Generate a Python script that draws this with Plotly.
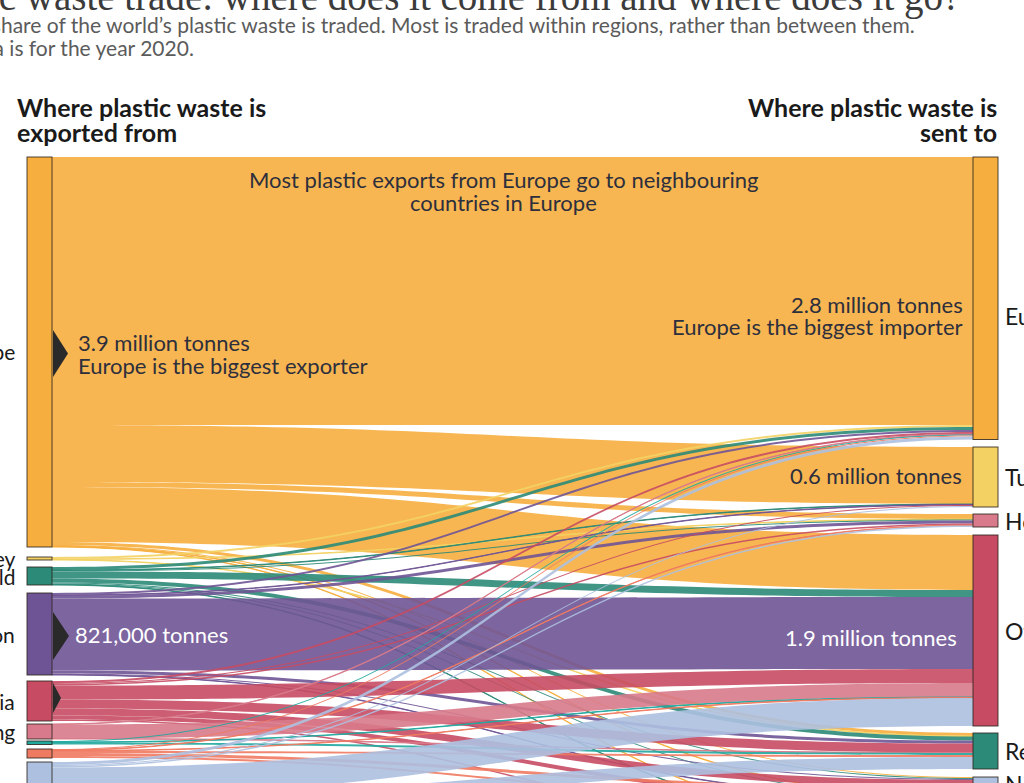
import plotly.graph_objects as go

W, H = 1024, 783

# ---------------- data (million tonnes, 2020) ----------------
exporter_names = ["Europe", "Turkey", "Rest of the world", "East Asia region", "Other Asia",
                  "Hong Kong", "Africa", "Latin America", "North America"]
importer_names = ["Europe", "Turkey", "Hong Kong", "Other Asia", "Rest of the world",
                  "North America", "Latin America", "Africa"]

flow_from = (["Europe"] * 8 + ["Turkey"] * 3 + ["Rest of the world"] * 8 +
             ["East Asia region"] * 7 + ["Other Asia"] * 8 + ["Hong Kong"] * 3 +
             ["Africa"] * 3 + ["Latin America"] * 6 + ["North America"] * 7)
flow_to = [
    "Europe", "Turkey", "Hong Kong", "Other Asia", "Rest of the world", "North America", "Latin America", "Africa",
    "Europe", "Hong Kong", "Rest of the world",
    "Europe", "Turkey", "Hong Kong", "Other Asia", "Rest of the world", "North America", "Latin America", "Africa",
    "Europe", "Turkey", "Hong Kong", "Other Asia", "Rest of the world", "North America", "Latin America",
    "Europe", "Turkey", "Hong Kong", "Other Asia", "Rest of the world", "North America", "Latin America", "Africa",
    "Europe", "Other Asia", "Rest of the world",
    "Europe", "Other Asia", "Rest of the world",
    "Europe", "Hong Kong", "Other Asia", "Rest of the world", "North America", "Latin America",
    "Europe", "Turkey", "Hong Kong", "Other Asia", "Rest of the world", "Latin America", "Africa",
]
flow_mt = [
    2.68, 0.57, 0.05, 0.55, 0.03, 0.01, 0.005, 0.005,
    0.02, 0.005, 0.005,
    0.03, 0.005, 0.01, 0.07, 0.04, 0.01, 0.01, 0.005,
    0.02, 0.005, 0.03, 0.72, 0.03, 0.01, 0.005,
    0.02, 0.01, 0.015, 0.14, 0.09, 0.07, 0.04, 0.015,
    0.005, 0.14, 0.005,
    0.01, 0.005, 0.02,
    0.01, 0.005, 0.005, 0.02, 0.03, 0.02,
    0.03, 0.01, 0.015, 0.28, 0.12, 0.18, 0.005,
]

region_colors = {
    "Europe": (246, 174, 62),
    "Turkey": (243, 209, 99),
    "Rest of the world": (43, 138, 120),
    "East Asia region": (111, 84, 149),
    "Other Asia": (198, 75, 99),
    "Hong Kong": (216, 122, 139),
    "Africa": (33, 168, 158),
    "Latin America": (239, 122, 98),
    "North America": (173, 192, 224),
}

# ---------------- layout (pixels) ----------------
KY = 100.0                      # px per million tonnes
left_tops = [157, 557, 567, 593, 681, 724, 741, 749, 762]
right_tops = [157, 447, 514, 535, 733, 777, 797, 830]
LEFT_CX, RIGHT_CX, THICK = 39.5, 985.5, 25
left_labelled = ["Europe", "Turkey", "Rest of the world", "East Asia region", "Other Asia",
                 "Hong Kong", "North America"]
right_label_shift = {"Europe": 18}

n_left = len(exporter_names)
labels = exporter_names + importer_names
src_idx = [exporter_names.index(s) for s in flow_from]
tgt_idx = [n_left + importer_names.index(t) for t in flow_to]

out_tot = [sum(v for s, v in zip(flow_from, flow_mt) if s == n) for n in exporter_names]
in_tot = [sum(v for t, v in zip(flow_to, flow_mt) if t == n) for n in importer_names]
total = sum(flow_mt)
dom_h = KY * total
dom_top = H - dom_h

centers = [t + v * KY / 2 for t, v in zip(left_tops, out_tot)] + \
          [t + v * KY / 2 for t, v in zip(right_tops, in_tot)]
node_y = [(c - dom_top) / dom_h for c in centers]
node_x = [LEFT_CX / W] * n_left + [RIGHT_CX / W] * len(importer_names)

def rgb(c, a=1.0):
    return f"rgba({c[0]},{c[1]},{c[2]},{a})"

node_colors = [rgb(region_colors[n]) for n in labels]
link_colors = [rgb(region_colors[s], 0.9) for s in flow_from]

fig = go.Figure(go.Sankey(
    arrangement="fixed",
    domain=dict(x=[0, 1], y=[0, dom_h / H]),
    node=dict(label=[""] * len(labels), x=node_x, y=node_y, pad=0, thickness=THICK,
              color=node_colors, line=dict(color="rgba(45,38,30,0.85)", width=1)),
    link=dict(source=src_idx, target=tgt_idx, value=flow_mt, color=link_colors),
    hoverinfo="none",
))

def px(x):
    return x / W

def py(y):
    return 1 - y / H

anns = []

def add(text, x, y, size, color="#222222", xanchor="left", weight=400, family="Lato"):
    anns.append(dict(text=text, x=px(x), y=py(y), xref="paper", yref="paper",
                     xanchor=xanchor, yanchor="middle", showarrow=False,
                     font=dict(size=size, color=color, family=family, weight=weight)))

# title & subtitle (partly outside the visible page)
add("Plastic waste trade: where does it come from and where does it go?", 962, -3, 39,
    "#3b3b3b", "right", family="Liberation Serif")
add("Only a small share of the world’s plastic waste is traded. Most is traded within regions, rather than between them.",
    917, 25, 21, "#5b5b5b", "right")
add("Data is for the year 2020.", 196, 48, 21, "#5b5b5b", "right")

# column headings
add("Where plastic waste is", 15, 107, 25, "#1a1a1a", "left", 700)
add("exported from", 15, 132, 25, "#1a1a1a", "left", 700)
add("Where plastic waste is", 999, 107, 25, "#1a1a1a", "right", 700)
add("sent to", 999, 132, 25, "#1a1a1a", "right", 700)

# node labels
for i, name in enumerate(exporter_names):
    if name in left_labelled:
        add(name, 17, centers[i], 21, "#1a1a1a", "right")
for j, name in enumerate(importer_names):
    add(name, 1003, centers[n_left + j] + right_label_shift.get(name, 0), 23, "#1a1a1a", "left")

# in-chart notes
dark = "#2e2f3d"
add("Most plastic exports from Europe go to neighbouring", 503, 180, 22, dark, "center")
add("countries in Europe", 503, 202, 22, dark, "center")
add("3.9 million tonnes", 76, 342, 22, dark, "left")
add("Europe is the biggest exporter", 76, 366, 22, dark, "left")
add("2.8 million tonnes", 965, 304, 22, dark, "right")
add("Europe is the biggest importer", 965, 326, 22, dark, "right")
add("0.6 million tonnes", 964, 475, 22, dark, "right")
add("821,000 tonnes", 73, 634, 22, "#ffffff", "left")
add("1.9 million tonnes", 959, 637, 22, "#ffffff", "right")

# pointer triangles
shapes = []
for (x0, ytop, xtip, ybot) in [(53, 330, 68, 377), (53, 612, 69, 660), (53, 683, 61, 713)]:
    ym = (ytop + ybot) / 2
    path = f"M {px(x0)} {py(ytop)} L {px(xtip)} {py(ym)} L {px(x0)} {py(ybot)} Z"
    shapes.append(dict(type="path", xref="paper", yref="paper", path=path,
                       fillcolor="#2a2a2a", line=dict(width=0), layer="above"))

fig.update_layout(
    width=W, height=H, margin=dict(l=0, r=0, t=0, b=0),
    paper_bgcolor="white", plot_bgcolor="white",
    font=dict(family="Lato"),
    annotations=anns, shapes=shapes, showlegend=False,
)

fig.write_html("out.html", config={"displayModeBar": False})
